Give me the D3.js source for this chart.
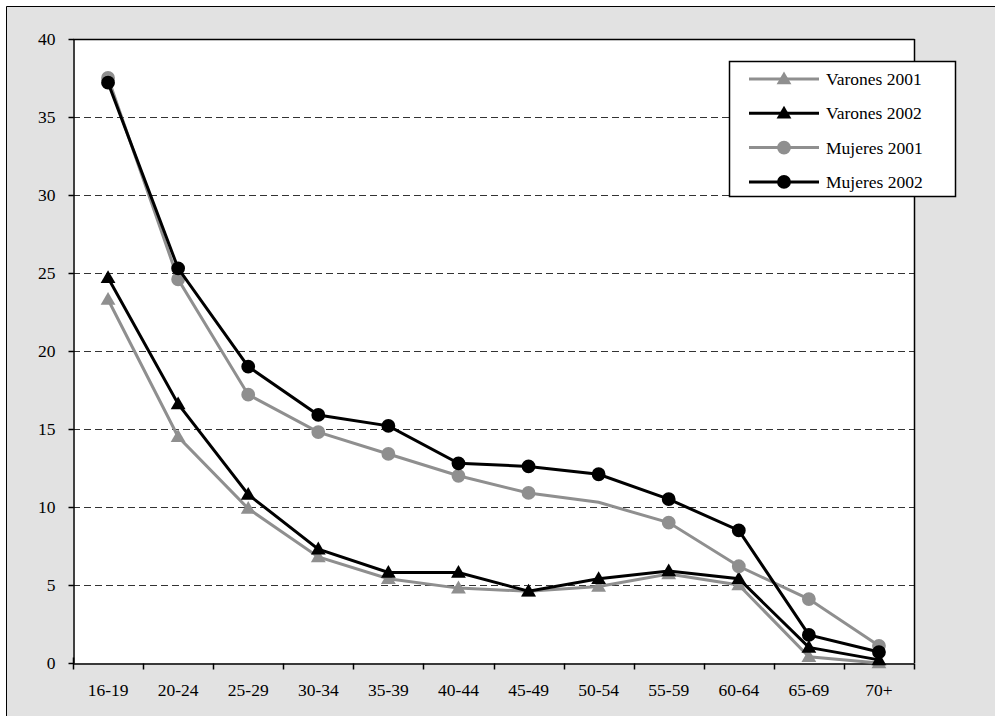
<!DOCTYPE html>
<html><head><meta charset="utf-8">
<script src="https://cdn.jsdelivr.net/npm/d3@7"></script>
<style>
body{margin:0;background:#fff}
svg{display:block}
svg text{font-family:"Liberation Serif","Times New Roman",Times,serif !important;font-size:17.5px;fill:#000}
</style>
</head><body>
<svg id="c" width="995" height="716"></svg>
<script>
const categories = ["16-19","20-24","25-29","30-34","35-39","40-44","45-49","50-54","55-59","60-64","65-69","70+"];
const varones2001 = [23.3,14.5,9.9,6.8,5.4,4.8,4.6,4.9,5.7,5.0,0.4,0.0];
const varones2002 = [24.7,16.6,10.8,7.3,5.8,5.8,4.6,5.4,5.9,5.4,1.0,0.2];
const mujeres2001 = [37.5,24.6,17.2,14.8,13.4,12.0,10.9,10.3,9.0,6.2,4.1,1.1];
const mujeres2002 = [37.2,25.3,19.0,15.9,15.2,12.8,12.6,12.1,10.5,8.5,1.8,0.7];
const mujeres2001NoMarker = ["50-54"];
const yTicks = [0,5,10,15,20,25,30,35,40];
const seriesNames = ["Varones 2001","Varones 2002","Mujeres 2001","Mujeres 2002"];

const GRAY = "#8f8f8f", BLACK = "#000";
const series = [
  {name: seriesNames[0], values: varones2001, color: GRAY, shape: "tri", skip: []},
  {name: seriesNames[1], values: varones2002, color: BLACK, shape: "tri", skip: []},
  {name: seriesNames[2], values: mujeres2001, color: GRAY, shape: "circ", skip: mujeres2001NoMarker},
  {name: seriesNames[3], values: mujeres2002, color: BLACK, shape: "circ", skip: []}
];

const svg = d3.select("#c");
const L = 73, R = 914, T = 39, B = 663;

svg.append("rect").attr("x",6).attr("y",6).attr("width",989).attr("height",710)
  .style("fill","#e2e2e2");
svg.append("path").attr("d","M6.5,716V6.5H995").attr("fill","none").attr("stroke","#000").attr("stroke-width",1);
svg.append("rect").attr("x",L).attr("y",T).attr("width",R-L).attr("height",B-T).style("fill","#fff");

const x = d3.scaleBand().domain(categories).range([L,R]).padding(0);
const y = d3.scaleLinear().domain([0,40]).range([B,T]);

svg.append("g").selectAll("line").data(yTicks.filter(t=>t>0&&t<40)).join("line")
  .attr("x1",L).attr("x2",R).attr("y1",d=>Math.round(y(d))+0.5).attr("y2",d=>Math.round(y(d))+0.5)
  .attr("stroke","#333").attr("stroke-width",1).attr("stroke-dasharray","7,4");
svg.append("line").attr("x1",L).attr("x2",R+0.5).attr("y1",T+0.5).attr("y2",T+0.5).attr("stroke","#000").attr("stroke-width",1.5);
svg.append("line").attr("x1",R+0.5).attr("x2",R+0.5).attr("y1",T).attr("y2",B).attr("stroke","#000").attr("stroke-width",1.5);

const yAxis = svg.append("g").attr("transform",`translate(${L+0.5},0)`)
  .call(d3.axisLeft(y).tickValues(yTicks).tickSize(5).tickPadding(13).tickSizeOuter(0));
yAxis.attr("font-family",null).attr("font-size",null);
yAxis.select(".domain").attr("stroke","#000").attr("stroke-width",1.5);
yAxis.selectAll(".tick line").attr("stroke","#000").attr("stroke-width",1.5);

const xAxis = svg.append("g").attr("transform",`translate(0,${B+0.5})`)
  .call(d3.axisBottom(x).tickSize(0).tickPadding(20).tickSizeOuter(0));
xAxis.attr("font-family",null).attr("font-size",null);
xAxis.select(".domain").attr("stroke","#000").attr("stroke-width",1.5);
const bounds = categories.map(c=>x(c)).concat([x(categories[categories.length-1])+x.bandwidth()]);
xAxis.selectAll("line.bt").data(bounds).join("line").attr("class","bt")
  .attr("x1",d=>Math.round(d)+0.5).attr("x2",d=>Math.round(d)+0.5).attr("y1",d=>d===bounds[0]?-6:0).attr("y2",6)
  .attr("stroke","#000").attr("stroke-width",1.5);

const cx = c => x(c) + x.bandwidth()/2;
const tri = d3.symbol().type(d3.symbolTriangle).size(95);
const circ = d3.symbol().type(d3.symbolCircle).size(150);

const line = d3.line().x((d,i)=>cx(categories[i])).y(d=>y(d));
series.forEach(s=>{
  const g = svg.append("g");
  g.append("path").attr("d",line(s.values)).attr("fill","none").attr("stroke",s.color).attr("stroke-width",3);
  g.selectAll("path.m").data(s.values.map((v,i)=>({v,c:categories[i]})).filter(d=>!s.skip.includes(d.c)))
    .join("path").attr("class","m")
    .attr("transform",d=>`translate(${cx(d.c)},${y(d.v)+(s.shape==="tri"?1:0)})`)
    .attr("d", s.shape==="tri"?tri():circ()).attr("fill",s.color);
});

const lg = svg.append("g");
lg.append("rect").attr("x",729.5).attr("y",61.5).attr("width",226).attr("height",135)
  .style("fill","#fff").attr("stroke","#000").attr("stroke-width",1.5);
series.forEach((s,i)=>{
  const yy = 79 + i*34.3;
  lg.append("line").attr("x1",749).attr("x2",819).attr("y1",yy).attr("y2",yy).attr("stroke",s.color).attr("stroke-width",3);
  lg.append("path").attr("transform",`translate(784,${yy+(s.shape==="tri"?1:0)})`)
    .attr("d", s.shape==="tri"?tri():circ()).attr("fill",s.color);
  lg.append("text").attr("x",826).attr("y",yy+6).text(s.name);
});
</script>
</body></html>
